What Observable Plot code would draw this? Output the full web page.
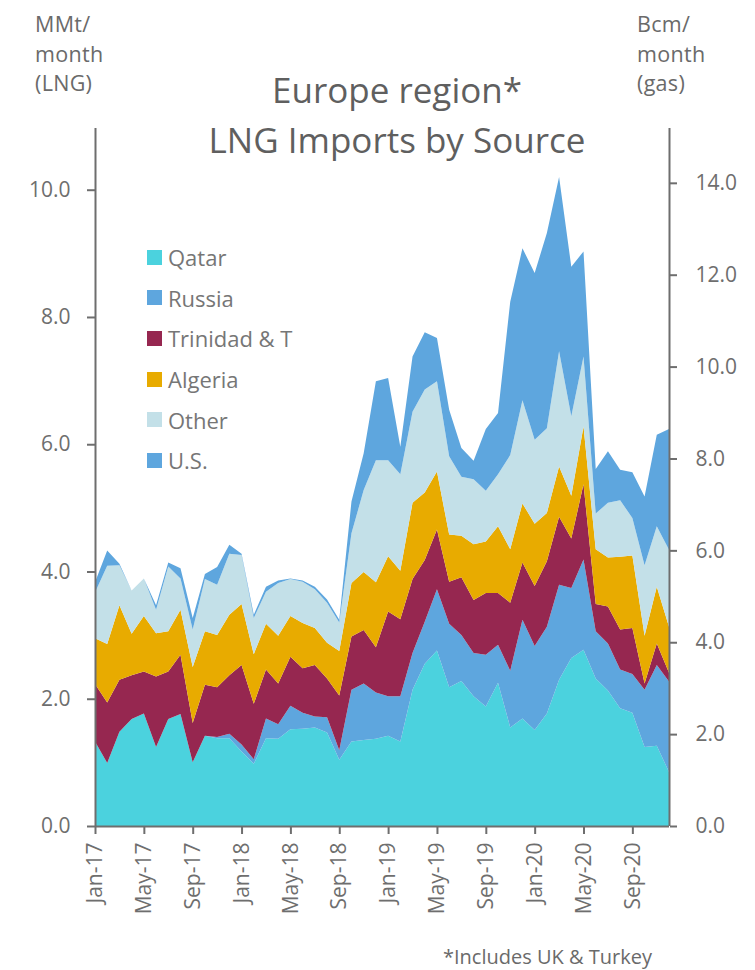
<!DOCTYPE html>
<html>
<head>
<meta charset="utf-8">
<script src="https://cdn.jsdelivr.net/npm/d3@7"></script>
<script src="https://cdn.jsdelivr.net/npm/@observablehq/plot@0.6"></script>
<style>
  body { margin: 0; background: #fff; }
  #wrap { position: relative; width: 755px; height: 970px; font-family: "Open Sans", sans-serif; color: #707070; overflow: hidden; }
  .abs { position: absolute; white-space: nowrap; }
  .title { left: 0; width: 794px; text-align: center; font-size: 35px; line-height: 35px; color: #5f5f5f; }
  .units { font-size: 21.5px; line-height: 29.5px; color: #6a6a6a; letter-spacing: 0.3px; }
  .legend { left: 147px; top: 237px; font-size: 22px; color: #767676; }
  .legend .row { display: flex; align-items: center; height: 40.6px; }
  .legend .sw { width: 15px; height: 15px; margin-right: 6px; }
  .note { left: 443px; top: 947px; font-size: 20px; line-height: 20px; color: #6a6a6a; }
</style>
</head>
<body>
<div id="wrap"></div>
<script>
// ---- Data (MMt/month, Europe LNG imports by source) ----
const months = ["Jan-17","Feb-17","Mar-17","Apr-17","May-17","Jun-17","Jul-17","Aug-17","Sep-17","Oct-17","Nov-17","Dec-17",
                "Jan-18","Feb-18","Mar-18","Apr-18","May-18","Jun-18","Jul-18","Aug-18","Sep-18","Oct-18","Nov-18","Dec-18",
                "Jan-19","Feb-19","Mar-19","Apr-19","May-19","Jun-19","Jul-19","Aug-19","Sep-19","Oct-19","Nov-19","Dec-19",
                "Jan-20","Feb-20","Mar-20","Apr-20","May-20","Jun-20","Jul-20","Aug-20","Sep-20","Oct-20","Nov-20","Dec-20"];
const sources = ["Qatar", "Russia", "Trinidad & T", "Algeria", "Other", "U.S."];
const colors  = ["#4bd2de", "#5ea6de", "#962750", "#e8ab00", "#c3e0e8", "#5ea6de"];

const qatar    = [1.33,0.99,1.48,1.68,1.77,1.24,1.68,1.76,1.00,1.42,1.38,1.38,1.17,0.98,1.38,1.37,1.52,1.53,1.55,1.47,1.04,1.33,1.35,1.37,1.42,1.33,2.14,2.55,2.76,2.18,2.28,2.04,1.88,2.25,1.55,1.69,1.51,1.77,2.30,2.64,2.77,2.32,2.13,1.85,1.78,1.24,1.26,0.85];
const russia   = [0,0,0,0,0,0,0,0,0,0,0.02,0.07,0.11,0.07,0.31,0.23,0.37,0.25,0.17,0.24,0.15,0.81,0.89,0.73,0.62,0.71,0.58,0.66,0.96,1.00,0.72,0.68,0.81,0.60,0.89,1.55,1.32,1.36,1.49,1.10,1.42,0.74,0.74,0.61,0.61,0.90,1.27,1.42];
const trinidad = [0.90,0.95,0.82,0.69,0.66,1.11,0.75,0.93,0.62,0.80,0.78,0.92,1.25,0.87,0.77,0.64,0.77,0.70,0.81,0.61,0.86,0.84,0.84,0.71,1.33,1.21,1.16,0.97,0.94,0.66,0.91,0.83,0.97,0.81,1.07,0.90,0.94,1.03,1.07,0.78,1.18,0.43,0.58,0.63,0.72,0.10,0.34,0.14];
const algeria  = [0.72,0.92,1.17,0.65,0.87,0.68,0.63,0.71,0.88,0.84,0.82,0.95,0.96,0.78,0.72,0.75,0.64,0.71,0.58,0.56,0.70,0.84,0.91,1.02,0.87,0.76,1.20,1.06,0.91,0.74,0.65,0.88,0.81,1.05,0.84,0.93,0.98,0.76,0.79,0.67,0.91,0.86,0.77,1.14,1.14,0.75,0.89,0.72];
const other    = [0.72,1.23,0.63,0.68,0.59,0.37,1.02,0.49,0.59,0.82,0.79,0.96,0.77,0.57,0.50,0.83,0.58,0.65,0.61,0.63,0.45,0.78,1.29,1.92,1.51,1.52,1.43,1.62,1.42,1.23,0.93,1.02,0.80,0.82,1.48,1.62,1.32,1.33,1.81,1.25,1.10,0.56,0.86,0.89,0.59,1.11,0.95,1.21];
const us       = [0.16,0.24,0.02,0,0,0.07,0.06,0.16,0.18,0.08,0.28,0.14,0.02,0.05,0.08,0.04,0.01,0.02,0.04,0.05,0.04,0.50,0.58,1.24,1.29,0.43,0.87,0.90,0.68,0.73,0.45,0.29,0.97,0.96,2.41,2.39,2.62,3.07,2.74,2.35,1.65,0.70,0.81,0.48,0.72,1.08,1.44,1.90];

const leftTicks  = [0, 2, 4, 6, 8, 10];            // MMt/month
const rightTicks = [0, 2, 4, 6, 8, 10, 12, 14];    // Bcm/month
const xTicks     = ["Jan-17","May-17","Sep-17","Jan-18","May-18","Sep-18","Jan-19","May-19","Sep-19","Jan-20","May-20","Sep-20"];
const bcmPerMMt  = 1.385;

// ---- Build table ----
const series = [qatar, russia, trinidad, algeria, other, us];
const data = [];
series.forEach((vals, s) => vals.forEach((v, i) => data.push({i, month: months[i], source: sources[s], value: v})));

const axisColor = "#6e6e6e";

const chart = Plot.plot({
  width: 755,
  height: 970,
  marginLeft: 95,
  marginRight: 86,
  marginTop: 128,
  marginBottom: 144,
  style: { fontFamily: "Open Sans, sans-serif", fontSize: "21px", background: "#fff", color: "#717171" },
  x: { domain: [0, months.length - 1], label: null },
  y: { domain: [0, 10.97], label: null },
  color: { domain: sources, range: colors },
  marks: [
    Plot.areaY(data, { x: "i", y: "value", fill: "source", z: "source", curve: "linear" }),
    Plot.ruleX([0], { stroke: axisColor, strokeWidth: 2 }),
    Plot.ruleX([months.length - 1], { stroke: axisColor, strokeWidth: 2 }),
    Plot.ruleY([0], { stroke: axisColor, strokeWidth: 2 }),
    Plot.axisY(leftTicks, { anchor: "left", tickFormat: d => d.toFixed(1), tickSize: 8, tickPadding: 17, strokeWidth: 2, color: axisColor, label: null }),
    Plot.axisY(rightTicks.map(b => b / bcmPerMMt), { anchor: "right", tickFormat: d => (d * bcmPerMMt).toFixed(1), tickSize: 7, tickPadding: 19, strokeWidth: 2, color: axisColor, label: null }),
    Plot.axisX(xTicks.map(t => months.indexOf(t)), { anchor: "bottom", tickFormat: i => months[i], tickRotate: -90, tickSize: 8, tickPadding: 8, strokeWidth: 2, color: axisColor, label: null })
  ]
});

const wrap = document.getElementById("wrap");
wrap.appendChild(chart);

function addDiv(cls, html, style) {
  const d = document.createElement("div");
  d.className = "abs " + cls;
  d.innerHTML = html;
  Object.assign(d.style, style || {});
  wrap.appendChild(d);
  return d;
}

addDiv("title", "Europe region*", { top: "72px" });
addDiv("title", "LNG Imports by Source", { top: "122px" });
addDiv("units", "MMt/<br>month<br>(LNG)", { left: "35px", top: "9px" });
addDiv("units", "Bcm/<br>month<br>(gas)", { left: "637px", top: "9px" });
addDiv("note", "*Includes UK &amp; Turkey");

const legend = addDiv("legend", "");
sources.forEach((s, k) => {
  const row = document.createElement("div");
  row.className = "row";
  row.innerHTML = `<span class="sw" style="background:${colors[k]}"></span><span>${s.replace("&", "&amp;")}</span>`;
  legend.appendChild(row);
});
</script>
</body>
</html>
